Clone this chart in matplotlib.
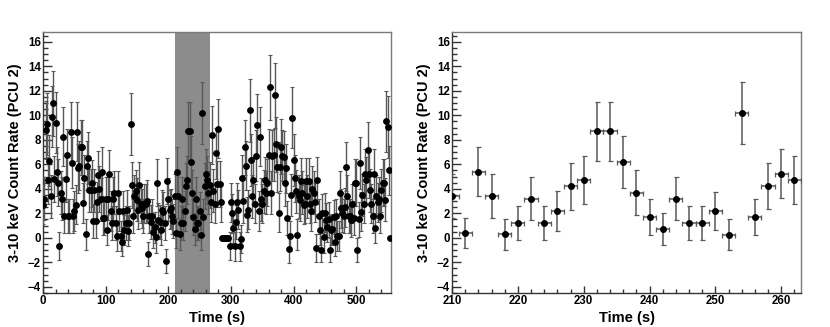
import numpy as np
import matplotlib
matplotlib.use("Agg")
import matplotlib.pyplot as plt
from matplotlib.ticker import MultipleLocator

plt.rcParams['font.family'] = ['Liberation Sans', 'DejaVu Sans']
plt.rcParams['font.weight'] = 'bold'

# ---------------- data ----------------
# full light curve, 2 s bins starting at t = 0
rate = [
    2.7, 3.2, 8.8, 9.3, 4.7, 6.3, 3.4, 9.9, 11.0, 4.8,
    9.4, 5.4, 4.5, -0.65, 3.7, 3.2, 8.25, 1.8, 4.8, 6.75,
    1.8, 1.8, 8.65, 6.15, 1.8, 2.2, 2.7, 8.65, 5.7, 5.9,
    7.4, 7.4, 2.85, 4.85, 0.3, 5.9, 6.5, 3.9, 3.9, 4.45,
    1.4, 3.9, 1.4, 2.95, 5.1, 4.0, 3.15, 5.4, 1.6, 1.6,
    3.2, 0.65, 3.2, 5.2, 2.2, 1.2, 3.2, 3.7, 1.2, 0.15,
    3.7, 2.2, 0.15, -0.3, 2.2, 0.65, 1.2, 2.3, 0.6, 1.2,
    9.3, 4.3, 1.8, 3.4, 3.8, 3.1, 2.3, 4.3, 2.8, 2.4,
    1.8, 2.8, 2.8, 3.0, -1.3, 1.8, 1.3, 1.8, 0.45, 0.85,
    0.05, 4.5, 1.45, 1.3, 0.65, 2.3, 2.15, 1.2, -1.9, 4.65,
    3.15, 2.3, 2.4, 1.75, 1.4,
    3.4, 0.4, 5.4, 3.4, 0.3, 1.2, 3.2, 1.2, 2.2, 4.2,
    4.7, 8.7, 8.7, 6.2, 3.7, 1.7, 0.7, 3.2, 1.2, 1.2,
    2.2, 0.25, 10.2, 1.7, 4.25, 5.25, 4.75,
    3.7, 4.3, 2.9, 8.4, 3.85, 2.8, 6.9, 4.4, 8.9, 4.4, 2.9,
    0, 0, 0, 0, 0, 0,
    -0.65, 2.9, 2.0, 0.8, -0.7, 1.3, 2.9, 2.3, -0.7, -0.1,
    4.9, 3.0, 7.4, 5.9, 1.9, 2.3, 10.4, 6.35, 3.4, 4.7,
    2.8, 6.7, 9.2, 2.2, 8.25, 3.15, 2.8, 3.8, 4.7, 3.7,
    4.5, 6.75, 12.3, 3.7, 6.7, 6.75, 11.65, 7.65, 5.75, 2.05,
    5.8, 7.45, 6.7, 6.6, 4.5, 5.7, 1.6, -0.9, 0.15, 3.5,
    9.8, 6.35, 4.85, 3.8, 0.25, 3.4, 3.1, 4.6, 3.7, 2.7,
    2.8, 4.6, 3.4, 4.6, 2.8, 2.2, 4.0, 3.7, 2.9, -0.85,
    4.7, 1.75, 0.65, -1.0, 2.0, 0.05, 2.05, 1.45, 0.9, 1.5,
    -1.0, 0.65, 0.7, 1.7, -0.3, 1.8, 0.15, 0.15, 3.7, 2.4,
    2.05, 1.8, 2.5, 5.8, 3.4, 1.8, 1.8, 1.45, 2.8, 1.6,
    4.5, 4.5, -1.0, 1.5, 6.1, 2.15, 3.5, 2.8, 5.25, 4.7,
    7.2, 5.25, 3.9, 2.8, 1.8, 5.25, 0.8, 3.4, 2.9, 3.2,
    1.8, 3.9, 4.5, 4.5, 3.1, 9.5, 9.05, 5.5, 0,
]
rate_err = [
    1.6, 1.75, 2.4, 2.5, 1.9, 2.1, 1.75, 2.5, 2.65, 1.9,
    2.5, 2.0, 1.9, 1.15, 1.75, 1.75, 2.4, 1.4, 1.9, 2.1,
    1.4, 1.4, 2.4, 2.1, 1.4, 1.6, 1.6, 2.4, 2.0, 2.0,
    2.25, 2.25, 1.6, 1.9, 1.25, 2.0, 2.1, 1.75, 1.75, 1.9,
    1.4, 1.75, 1.4, 1.6, 2.0, 1.9, 1.75, 2.0, 1.4, 1.4,
    1.75, 1.25, 1.75, 2.0, 1.6, 1.4, 1.75, 1.75, 1.4, 1.25,
    1.75, 1.6, 1.25, 1.15, 1.6, 1.25, 1.4, 1.6, 1.25, 1.4,
    2.5, 1.9, 1.4, 1.75, 1.75, 1.75, 1.6, 1.9, 1.6, 1.6,
    1.4, 1.6, 1.6, 1.75, 1.0, 1.4, 1.4, 1.4, 1.25, 1.25,
    1.25, 1.9, 1.4, 1.4, 1.25, 1.6, 1.6, 1.4, 1.0, 1.9,
    1.75, 1.6, 1.6, 1.4, 1.4,
    1.8, 1.2, 2.0, 1.8, 1.25, 1.4, 1.75, 1.4, 1.6, 1.9,
    1.95, 2.4, 2.4, 2.1, 1.8, 1.5, 1.3, 1.75, 1.4, 1.4,
    1.55, 1.25, 2.55, 1.5, 1.9, 2.0, 1.95,
    1.75, 1.9, 1.6, 2.4, 1.75, 1.6, 2.1, 1.9, 2.4, 1.9, 1.6,
    0, 0, 0, 0, 0, 0,
    1.15, 1.6, 1.6, 1.25, 1.15, 1.4, 1.6, 1.6, 1.15, 1.15,
    1.9, 1.75, 2.25, 2.0, 1.4, 1.6, 2.55, 2.1, 1.75, 1.9,
    1.6, 2.1, 2.5, 1.6, 2.4, 1.75, 1.6, 1.75, 1.9, 1.75,
    1.9, 2.1, 2.65, 1.75, 2.1, 2.1, 2.65, 2.25, 2.0, 1.6,
    2.0, 2.25, 2.1, 2.1, 1.9, 2.0, 1.4, 1.15, 1.25, 1.75,
    2.5, 2.1, 1.9, 1.75, 1.25, 1.75, 1.75, 1.9, 1.75, 1.6,
    1.6, 1.9, 1.75, 1.9, 1.6, 1.6, 1.9, 1.75, 1.6, 1.15,
    1.9, 1.4, 1.25, 1.0, 1.6, 1.25, 1.6, 1.4, 1.25, 1.4,
    1.0, 1.25, 1.25, 1.4, 1.15, 1.4, 1.25, 1.25, 1.75, 1.6,
    1.6, 1.4, 1.6, 2.0, 1.75, 1.4, 1.4, 1.4, 1.6, 1.4,
    1.9, 1.9, 1.0, 1.4, 2.1, 1.6, 1.75, 1.6, 2.0, 1.9,
    2.25, 2.0, 1.75, 1.6, 1.4, 2.0, 1.25, 1.75, 1.6, 1.75,
    1.4, 1.75, 1.9, 1.9, 1.75, 2.5, 2.5, 2.0, 0,
]
bin_width = 2.0
time = np.arange(len(rate)) * bin_width
time_err = [bin_width / 2] * len(rate)
assert len(rate) == len(rate_err) == 278, (len(rate), len(rate_err))

highlight = [210, 267]          # shaded interval (s)
zoom_range = [210, 262]         # bins shown in right panel

xlabel = "Time (s)"
ylabel = "3-10 keV Count Rate (PCU 2)"

# ---------------- figure ----------------
W, H = 830, 327
fig = plt.figure(figsize=(W / 100, H / 100), dpi=100)

def px_axes(x0, x1, y0, y1):
    return fig.add_axes([x0 / W, 1 - y1 / H, (x1 - x0) / W, (y1 - y0) / H])

axL = px_axes(43, 391, 32, 293)
axR = px_axes(452, 801, 32, 293)

ecol = '#585858'

def style(ax, major_x, minor_x):
    ax.set_ylim(-4.5, 16.8)
    ax.yaxis.set_major_locator(MultipleLocator(2))
    ax.yaxis.set_minor_locator(MultipleLocator(0.5))
    ax.xaxis.set_major_locator(MultipleLocator(major_x))
    ax.xaxis.set_minor_locator(MultipleLocator(minor_x))
    ax.tick_params(axis='y', which='major', direction='in', length=6.8, width=1.0,
                   labelsize=8.3, pad=1.5, color='#333333')
    ax.tick_params(axis='y', which='minor', direction='in', length=3.5, width=1.0,
                   color='#333333')
    ax.tick_params(axis='x', which='major', direction='in', length=5.2, width=1.0,
                   labelsize=8.3, pad=1.2, color='#333333')
    ax.tick_params(axis='x', which='minor', direction='in', length=2.7, width=1.0,
                   color='#333333')
    for lab in ax.get_xticklabels() + ax.get_yticklabels():
        lab.set_fontweight('bold')
    for s in ['left', 'bottom']:
        ax.spines[s].set_color('#333333')
        ax.spines[s].set_linewidth(1.0)
    for s in ['top', 'right']:
        ax.spines[s].set_color('#7a7a7a')
        ax.spines[s].set_linewidth(1.0)
    ax.set_xlabel(xlabel, fontsize=10.5, fontweight='bold', labelpad=3)
    ax.set_ylabel(ylabel, fontsize=10.5, fontweight='bold', labelpad=4)

# left panel: full light curve
axL.axvspan(highlight[0], highlight[1], color='#8c8c8c', lw=0, zorder=0)
axL.errorbar(time, rate, xerr=time_err, yerr=rate_err, fmt='o', color='black',
             ms=3.9, ecolor=ecol, elinewidth=1.0, capsize=1.2, capthick=0.8,
             zorder=3)
axL.set_xlim(0, 555.5)
style(axL, 100, 20)

# right panel: zoom on the shaded interval
t_arr = np.asarray(time)
mask = (t_arr >= zoom_range[0]) & (t_arr <= zoom_range[1])
axR.errorbar(t_arr[mask], np.asarray(rate)[mask],
             xerr=np.asarray(time_err)[mask], yerr=np.asarray(rate_err)[mask],
             fmt='o', color='black', ms=4.0, ecolor=ecol, elinewidth=1.1,
             capsize=1.8, capthick=0.9, zorder=3)
axR.set_xlim(210, 263)
style(axR, 10, 2)

fig.savefig("out.png", dpi=100, facecolor='white')
